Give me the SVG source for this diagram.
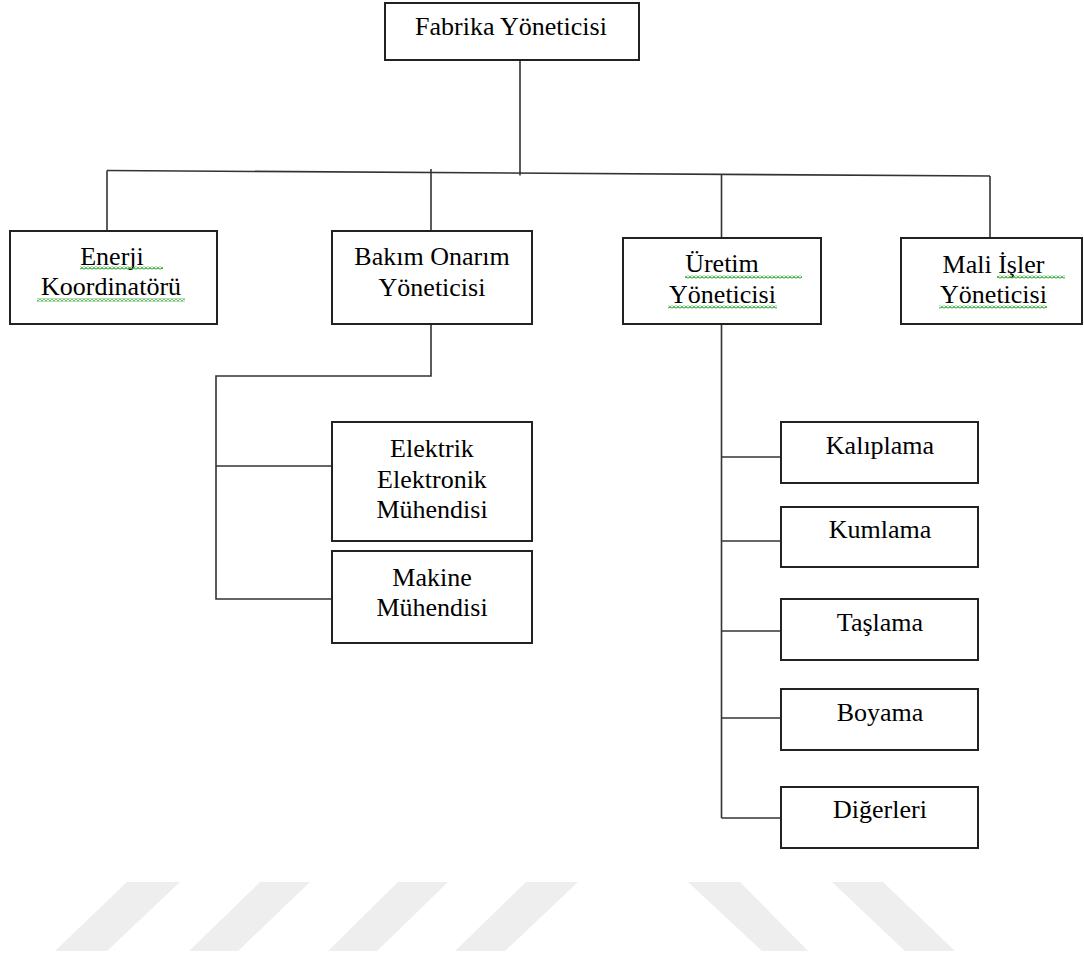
<svg xmlns="http://www.w3.org/2000/svg" width="1084" height="956" viewBox="0 0 1084 956">
<style>
.box{fill:#fff;stroke:#222;stroke-width:2}
.t{font-family:"Liberation Serif","Times New Roman",serif;font-size:26px;fill:#000;text-anchor:middle}
.c{fill:none;stroke:#333;stroke-width:1.6}
.wm{fill:#eeeeee}
.wv{fill:url(#wavy)}
</style>
<defs>
<pattern id="wavy" width="4" height="3" patternUnits="userSpaceOnUse">
<path d="M0 2.5 L2 0.5 L4 2.5" fill="none" stroke="#3cae3c" stroke-width="1.2"/>
</pattern>
</defs>
<rect width="1084" height="956" fill="#fff"/>
<g id="watermark">
<polygon class="wm" points="127,882 180,882 107,951 55,951"/>
<polygon class="wm" points="260,882 310,882 238,951 189,951"/>
<polygon class="wm" points="398,882 448,882 377,951 328,951"/>
<polygon class="wm" points="526,882 578,882 505,951 455,951"/>
<polygon class="wm" points="688,882 740,882 808,951 762,951"/>
<polygon class="wm" points="832,882 883,882 955,951 905,951"/>
</g>
<g id="connectors">
<line class="c" x1="520" y1="60" x2="520" y2="175.5"/>
<line class="c" x1="107" y1="170.5" x2="990" y2="176"/>
<line class="c" x1="107" y1="170.5" x2="107" y2="231"/>
<line class="c" x1="431" y1="169" x2="431" y2="231"/>
<line class="c" x1="721.5" y1="174" x2="721.5" y2="238"/>
<line class="c" x1="990" y1="176" x2="990" y2="238"/>
<polyline class="c" points="431,324 431,376 216,376 216,599 332,599"/>
<line class="c" x1="216" y1="466" x2="332" y2="466"/>
<line class="c" x1="721.5" y1="324" x2="721.5" y2="818"/>
<line class="c" x1="721.5" y1="457" x2="781" y2="457"/>
<line class="c" x1="721.5" y1="541" x2="781" y2="541"/>
<line class="c" x1="721.5" y1="631" x2="781" y2="631"/>
<line class="c" x1="721.5" y1="718" x2="781" y2="718"/>
<line class="c" x1="721.5" y1="818" x2="781" y2="818"/>
</g>
<g id="fabrika">
<rect class="box" x="385" y="3" width="254" height="57"/>
<text class="t" x="511" y="35">Fabrika Yöneticisi</text>
</g>
<g id="enerji">
<rect class="box" x="10" y="231" width="207" height="93"/>
<text class="t" x="112" y="265">Enerji</text>
<text class="t" x="111" y="295">Koordinatörü</text>
<rect class="wv" x="80" y="266.5" width="83" height="3"/>
<rect class="wv" x="37" y="298.5" width="148" height="3"/>
</g>
<g id="bakim">
<rect class="box" x="332" y="231" width="200" height="93"/>
<text class="t" x="432" y="265">Bakım Onarım</text>
<text class="t" x="432" y="296">Yöneticisi</text>
</g>
<g id="uretim">
<rect class="box" x="623" y="238" width="198" height="86"/>
<text class="t" x="722" y="272">Üretim</text>
<text class="t" x="722.5" y="303">Yöneticisi</text>
<rect class="wv" x="685" y="275.5" width="117" height="3"/>
<rect class="wv" x="668" y="305.5" width="109" height="3"/>
</g>
<g id="mali">
<rect class="box" x="901" y="238" width="181" height="86"/>
<text class="t" x="993.5" y="273">Mali İşler</text>
<text class="t" x="993.5" y="303">Yöneticisi</text>
<rect class="wv" x="997" y="275.5" width="68" height="3"/>
<rect class="wv" x="939" y="305.5" width="108" height="3"/>
</g>
<g id="elektrik">
<rect class="box" x="332" y="422" width="200" height="119"/>
<text class="t" x="432" y="457">Elektrik</text>
<text class="t" x="432" y="488">Elektronik</text>
<text class="t" x="432" y="518">Mühendisi</text>
</g>
<g id="makine">
<rect class="box" x="332" y="551" width="200" height="92"/>
<text class="t" x="432" y="586">Makine</text>
<text class="t" x="432" y="616">Mühendisi</text>
</g>
<g id="kaliplama">
<rect class="box" x="781" y="422" width="197" height="61"/>
<text class="t" x="880" y="454">Kalıplama</text>
</g>
<g id="kumlama">
<rect class="box" x="781" y="507" width="197" height="60"/>
<text class="t" x="880" y="538">Kumlama</text>
</g>
<g id="taslama">
<rect class="box" x="781" y="599" width="197" height="61"/>
<text class="t" x="880" y="631">Taşlama</text>
</g>
<g id="boyama">
<rect class="box" x="781" y="689" width="197" height="61"/>
<text class="t" x="880" y="721">Boyama</text>
</g>
<g id="digerleri">
<rect class="box" x="781" y="787" width="197" height="61"/>
<text class="t" x="880" y="818">Diğerleri</text>
</g>
</svg>
